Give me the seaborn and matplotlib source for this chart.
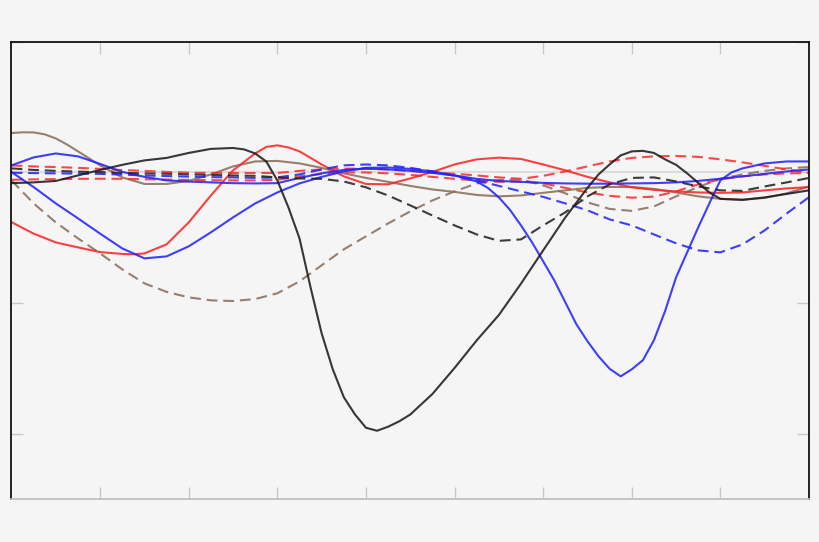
import numpy as np
import pandas as pd
import seaborn as sns
import matplotlib.pyplot as plt

# shared x grid (0 .. 9, step 0.25)
x = np.arange(0, 9.01, 0.25)

black_solid = [-0.083, -0.077, -0.066, -0.024, 0.018, 0.057, 0.091, 0.110, 0.148, 0.179,
               0.186, 0.144, -0.062, -0.505, -1.231, -1.719, -1.953, -1.945, -1.852, -1.695,
               -1.496, -1.285, -1.091, -0.851, -0.597, -0.345, -0.119, 0.060, 0.160, 0.148,
               0.057, -0.081, -0.203, -0.211, -0.192, -0.165, -0.138]
black_dashed = [0.030, 0.018, 0.011, 0.005, 0.002, -0.005, -0.008, -0.011, -0.016, -0.020,
                -0.024, -0.027, -0.039, -0.047, -0.050, -0.070, -0.115, -0.177, -0.253, -0.330,
                -0.406, -0.475, -0.524, -0.513, -0.406, -0.306, -0.184, -0.092, -0.043, -0.039,
                -0.070, -0.108, -0.138, -0.142, -0.108, -0.077, -0.043]
blue_solid_a = [0.053, 0.114, 0.144, 0.122, 0.064, 0.003, -0.035, -0.062, -0.071, -0.077,
                -0.083, -0.085, -0.083, -0.043, -0.008, 0.018, 0.028, 0.022, 0.011, -0.005,
                -0.024, -0.050, -0.066, -0.073, -0.081, -0.085, -0.087, -0.087, -0.085, -0.083,
                -0.077, -0.066, -0.049, -0.031, -0.012, 0.007, 0.022]
blue_solid_b = [0.002, -0.113, -0.238, -0.352, -0.469, -0.582, -0.658, -0.643, -0.566, -0.459,
                -0.345, -0.238, -0.154, -0.085, -0.035, 0.007, 0.034, 0.037, 0.026, 0.007,
                -0.024, -0.070, -0.192, -0.406, -0.681, -0.994, -1.292, -1.502, -1.506, -1.284,
                -0.803, -0.421, -0.062, 0.030, 0.068, 0.083, 0.083]
blue_dashed = [-0.003, -0.006, -0.008, -0.010, -0.012, -0.018, -0.024, -0.029, -0.033, -0.037,
               -0.039, -0.043, -0.039, -0.016, 0.022, 0.053, 0.060, 0.053, 0.034, 0.007,
               -0.027, -0.062, -0.104, -0.146, -0.188, -0.238, -0.291, -0.360, -0.406, -0.475,
               -0.543, -0.597, -0.612, -0.551, -0.444, -0.314, -0.190]
red_solid = [-0.381, -0.469, -0.536, -0.574, -0.610, -0.624, -0.620, -0.551, -0.383, -0.177,
             0.015, 0.144, 0.206, 0.160, 0.060, -0.031, -0.089, -0.092, -0.047, 0.003,
             0.060, 0.099, 0.112, 0.102, 0.060, 0.015, -0.035, -0.077, -0.115, -0.134,
             -0.146, -0.154, -0.157, -0.154, -0.138, -0.123, -0.113]
red_dashed_a = [0.053, 0.045, 0.040, 0.034, 0.026, 0.017, 0.011, 0.003, -0.003, -0.005,
                -0.005, -0.005, -0.005, 0.011, 0.022, 0.028, 0.028, 0.022, 0.011, -0.001,
                -0.011, -0.024, -0.039, -0.050, -0.027, 0.007, 0.045, 0.083, 0.110, 0.122,
                0.125, 0.118, 0.099, 0.076, 0.049, 0.022, -0.001]
red_dashed_b = [-0.057, -0.054, -0.052, -0.050, -0.049, -0.050, -0.053, -0.056, -0.058, -0.060,
                -0.062, -0.062, -0.057, -0.031, -0.012, -0.001, -0.001, -0.008, -0.020, -0.035,
                -0.050, -0.062, -0.073, -0.070, -0.085, -0.119, -0.154, -0.180, -0.194, -0.186,
                -0.146, -0.092, -0.054, -0.031, -0.016, -0.008, -0.005]
brown_solid = [0.300, 0.305, 0.259, 0.160, 0.053, -0.039, -0.089, -0.089, -0.066, -0.016,
               0.045, 0.083, 0.087, 0.068, 0.034, -0.008, -0.043, -0.073, -0.104, -0.131,
               -0.150, -0.173, -0.184, -0.177, -0.157, -0.138, -0.119, -0.112, -0.112, -0.127,
               -0.154, -0.184, -0.203, -0.209, -0.196, -0.161, -0.108]
brown_dashed = [-0.062, -0.238, -0.383, -0.505, -0.620, -0.742, -0.849, -0.914, -0.956, -0.979,
                -0.984, -0.969, -0.925, -0.834, -0.711, -0.589, -0.490, -0.391, -0.299, -0.215,
                -0.146, -0.085, -0.058, -0.054, -0.100, -0.161, -0.230, -0.280, -0.295, -0.261,
                -0.184, -0.112, -0.050, -0.016, 0.011, 0.030, 0.040]

# extra readings where the curves bend sharply
black_solid_xe = [2.625, 2.875, 3.125, 3.375, 3.625, 3.875, 4.125, 4.375,
                  6.625, 6.875, 7.125, 7.375, 7.625, 7.875]
black_solid_ye = [0.175, 0.083, -0.268, -0.880, -1.505, -1.850, -1.976, -1.904,
                  -0.016, 0.129, 0.164, 0.099, -0.008, -0.154]
blue_solid_b_xe = [5.375, 5.625, 5.875, 6.125, 6.375, 6.625, 6.875, 7.125,
                   7.375, 7.625, 7.875, 8.125]
blue_solid_b_ye = [-0.119, -0.287, -0.536, -0.826, -1.162, -1.407, -1.560, -1.437,
                   -1.063, -0.612, -0.238, -0.001]
red_solid_xe = [1.375, 2.875, 3.125]
red_solid_ye = [-0.627, 0.194, 0.190]
brown_solid_xe = [0.125, 0.375, 0.625]
brown_solid_ye = [0.306, 0.290, 0.213]
extras = {
    'black_solid': (black_solid_xe, black_solid_ye),
    'blue_solid_b': (blue_solid_b_xe, blue_solid_b_ye),
    'red_solid': (red_solid_xe, red_solid_ye),
    'brown_solid': (brown_solid_xe, brown_solid_ye),
}

series = [
    ('brown_dashed', brown_dashed, '#8b6f5c', '--'),
    ('brown_solid', brown_solid, '#8b6f5c', '-'),
    ('red_dashed_b', red_dashed_b, '#ff2e2e', '--'),
    ('red_dashed_a', red_dashed_a, '#ff2e2e', '--'),
    ('red_solid', red_solid, '#ff2626', '-'),
    ('blue_dashed', blue_dashed, '#2424ff', '--'),
    ('blue_solid_a', blue_solid_a, '#2424ff', '-'),
    ('blue_solid_b', blue_solid_b, '#2424ff', '-'),
    ('black_dashed', black_dashed, '#222222', '--'),
    ('black_solid', black_solid, '#1c1c1c', '-'),
]

sns.set_style('white', {'axes.facecolor': '#f5f5f5', 'figure.facecolor': '#f5f5f5'})

fig = plt.figure(figsize=(8.2, 5.42), dpi=100)
ax = fig.add_axes([11.5 / 820, 1 - 499.3 / 542, (809 - 11.5) / 820, (499.3 - 41.5) / 542])

ax.axhline(0, color='#dcdcdc', lw=1.5, zorder=0)

for name, vals, col, ls in series:
    df = pd.DataFrame({'x': x, 'y': vals})
    if name in extras:
        xe, ye = extras[name]
        df = pd.concat([df, pd.DataFrame({'x': xe, 'y': ye})]).sort_values('x')
    sns.lineplot(data=df, x='x', y='y', color=col, lw=1.5, ax=ax, sort=True,
                 linestyle=ls, dashes=False, alpha=0.88)
    if ls == '--':
        ax.lines[-1].set_dashes((5.2, 2.8))

ax.set_xlim(0, 9)
ax.set_ylim(-2.5, 1.0)
ax.set_xticks(range(1, 9))
ax.set_yticks([-2, -1, 0, 1])
ax.set_xticklabels([])
ax.set_yticklabels([])
ax.set_xlabel('')
ax.set_ylabel('')
ax.tick_params(direction='in', length=8.6, width=1, color='#c8c8c8',
               top=True, bottom=True, left=True, right=True)

for side in ['left', 'top', 'right']:
    ax.spines[side].set_color('#111111')
    ax.spines[side].set_linewidth(1.3)
ax.spines['bottom'].set_color('#c0c0c0')
ax.spines['bottom'].set_linewidth(1.3)

fig.savefig('out.png', dpi=100, facecolor=fig.get_facecolor())
